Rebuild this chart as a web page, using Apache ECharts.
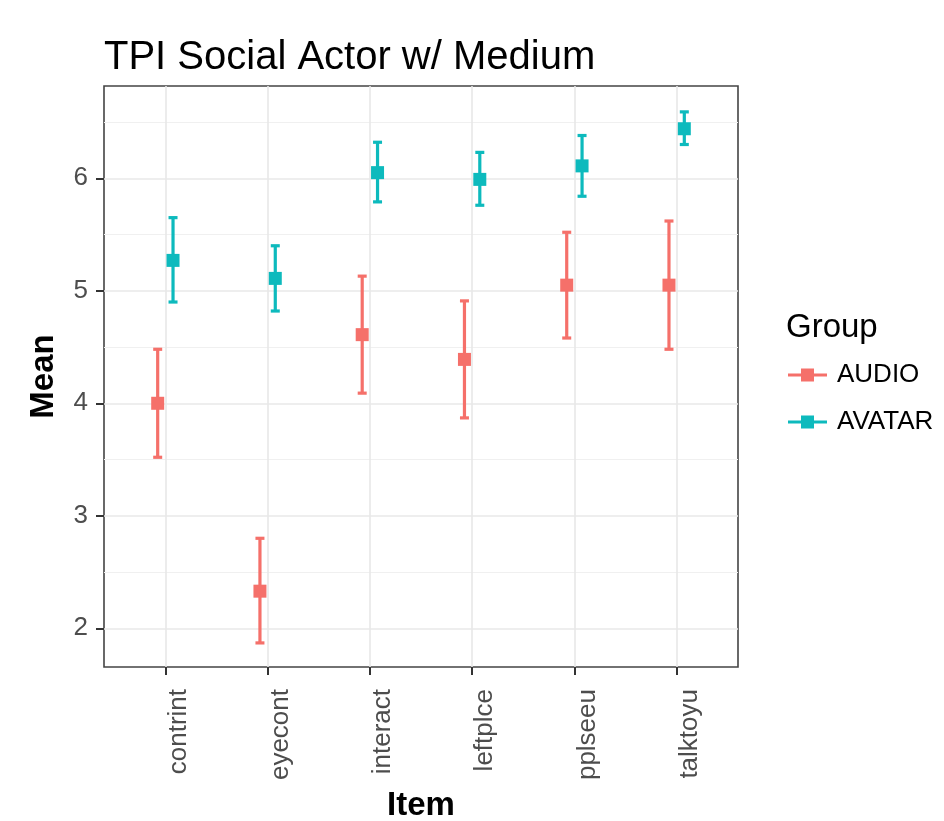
<!DOCTYPE html>
<html>
<head>
<meta charset="utf-8">
<script src="https://cdn.jsdelivr.net/npm/echarts@6/dist/echarts.min.js"></script>
<style>
html,body{margin:0;padding:0;background:#fff;}
#chart{width:944px;height:821px;}
</style>
</head>
<body>
<div id="chart"></div>
<script>
// ---- data ----
const categories = ['contrint', 'eyecont', 'interact', 'leftplce', 'pplseeu', 'talktoyu'];
const groups = ['AUDIO', 'AVATAR'];
const audioMean = [4.00, 2.33, 4.61, 4.39, 5.05, 5.05];
const audioLow  = [3.52, 1.87, 4.09, 3.87, 4.58, 4.48];
const audioHigh = [4.48, 2.80, 5.13, 4.91, 5.52, 5.62];
const avatarMean = [5.27, 5.11, 6.05, 5.99, 6.11, 6.44];
const avatarLow  = [4.90, 4.82, 5.79, 5.76, 5.84, 6.30];
const avatarHigh = [5.65, 5.40, 6.32, 6.23, 6.38, 6.59];
const yMajorTicks = [2, 3, 4, 5, 6];
const yMinorTicks = [2.5, 3.5, 4.5, 5.5, 6.5];

const colors = ['#F5706A', '#0DBABD'];

function buildData(mean, low, high) {
  return categories.map((c, i) => [i, mean[i], low[i], high[i]]);
}

function makeRender(offset) {
  return function (params, api) {
    const i = api.value(0);
    const p = api.coord([i + offset, api.value(1)]);
    const lo = api.coord([i + offset, api.value(2)]);
    const hi = api.coord([i + offset, api.value(3)]);
    const color = api.visual('color');
    const cap = 4.5;
    const lw = 3.2;
    return {
      type: 'group',
      children: [
        { type: 'line', shape: { x1: p[0], y1: lo[1], x2: p[0], y2: hi[1] }, style: { stroke: color, lineWidth: lw } },
        { type: 'line', shape: { x1: p[0] - cap, y1: hi[1], x2: p[0] + cap, y2: hi[1] }, style: { stroke: color, lineWidth: lw } },
        { type: 'line', shape: { x1: p[0] - cap, y1: lo[1], x2: p[0] + cap, y2: lo[1] }, style: { stroke: color, lineWidth: lw } },
        { type: 'rect', shape: { x: p[0] - 6.5, y: p[1] - 6.5, width: 13, height: 13 }, style: { fill: color } }
      ]
    };
  };
}

const xTickValues = categories.map((c, i) => i);
const legendIcon = 'path://M0,5 H13 V0 H26 V5 H39 V8 H26 V13 H13 V8 H0 Z';

const chart = echarts.init(document.getElementById('chart'));
chart.setOption({
  backgroundColor: '#fff',
  animation: false,
  title: [
    { text: 'TPI Social Actor w/ Medium', left: 99, top: 33,
      textStyle: { fontFamily: 'Liberation Sans', fontSize: 40, fontWeight: 'normal', color: '#000' } },
    { text: 'Group', left: 781, top: 306,
      textStyle: { fontFamily: 'Liberation Sans', fontSize: 33, fontWeight: 'normal', color: '#000' } }
  ],
  legend: {
    orient: 'vertical',
    left: 783,
    top: 357,
    itemWidth: 39,
    itemHeight: 13,
    itemGap: 21,
    icon: legendIcon,
    data: groups,
    textStyle: { fontFamily: 'Liberation Sans', fontSize: 26, color: '#000', lineHeight: 26, padding: [0, 0, 0, 5] }
  },
  grid: {
    left: 104, right: 206, top: 86, bottom: 154,
    outerBoundsMode: 'none',
    show: true, borderColor: '#444', borderWidth: 1.6, backgroundColor: 'transparent',
    containLabel: false
  },
  xAxis: {
    type: 'value',
    min: -0.6, max: 5.6,
    name: 'Item',
    nameLocation: 'middle',
    nameGap: 122,
    nameTextStyle: { fontFamily: 'Liberation Sans', fontSize: 33, fontWeight: 'bold', color: '#000' },
    axisLine: { show: false, onZero: false },
    axisTick: { show: true, customValues: xTickValues, length: 8, lineStyle: { color: '#333', width: 2 } },
    axisLabel: {
      customValues: xTickValues,
      rotate: 90,
      margin: 22,
      verticalAlign: 'top',
      fontFamily: 'Liberation Sans', fontSize: 26, color: '#4d4d4d',
      formatter: v => categories[Math.round(v)]
    },
    splitLine: { show: true, lineStyle: { color: '#e8e8e8', width: 1.6 } }
  },
  yAxis: [
    {
      type: 'value',
      min: 1.656, max: 6.82,
      name: 'Mean',
      nameLocation: 'middle',
      nameRotate: 90,
      nameGap: 44,
      nameTextStyle: { fontFamily: 'Liberation Sans', fontSize: 33, fontWeight: 'bold', color: '#000' },
      axisLine: { show: false, onZero: false },
      axisTick: { show: true, customValues: yMajorTicks, length: 8, lineStyle: { color: '#333', width: 2 } },
      axisLabel: {
        customValues: yMajorTicks,
        margin: 16,
        fontFamily: 'Liberation Sans', fontSize: 26, color: '#4d4d4d'
      },
      splitLine: { show: true, lineStyle: { color: '#e8e8e8', width: 1.6 } }
    },
    {
      type: 'value',
      min: 1.656, max: 6.82,
      position: 'left',
      axisLine: { show: false, onZero: false },
      axisTick: { show: false, customValues: yMinorTicks },
      axisLabel: { show: false, customValues: yMinorTicks },
      splitLine: { show: true, lineStyle: { color: '#f0f0f0', width: 1 } }
    }
  ],
  series: [
    {
      name: 'AUDIO', type: 'custom', yAxisIndex: 0,
      itemStyle: { color: colors[0] },
      renderItem: makeRender(-0.075),
      encode: { x: 0, y: [1, 2, 3] },
      data: buildData(audioMean, audioLow, audioHigh),
      z: 5
    },
    {
      name: 'AVATAR', type: 'custom', yAxisIndex: 0,
      itemStyle: { color: colors[1] },
      renderItem: makeRender(0.075),
      encode: { x: 0, y: [1, 2, 3] },
      data: buildData(avatarMean, avatarLow, avatarHigh),
      z: 5
    }
  ]
});
</script>
</body>
</html>
